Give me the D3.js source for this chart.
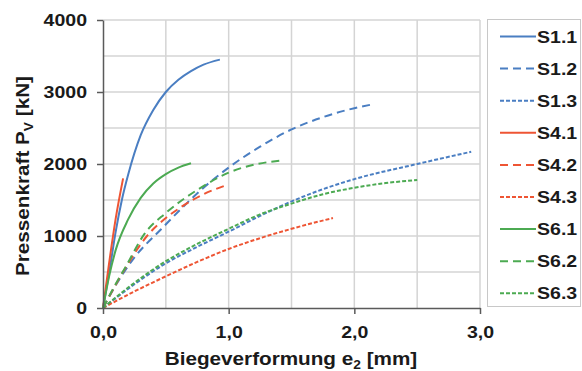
<!DOCTYPE html>
<html><head><meta charset="utf-8">
<script src="https://cdn.jsdelivr.net/npm/d3@7"></script>
<style>
html,body{margin:0;padding:0;background:#fff;}
svg{display:block;font-family:"Liberation Sans",Arial,sans-serif;font-weight:bold;}
</style></head><body>
<svg id="c" width="582" height="371"></svg>
<script>
// ---- data ----
const seriesNames = ["S1.1","S1.2","S1.3","S4.1","S4.2","S4.3","S6.1","S6.2","S6.3"];
const S1_1 = [[0,0],[0.05,500],[0.1,1050],[0.15,1500],[0.2,1850],[0.3,2400],[0.4,2750],[0.5,3000],[0.6,3170],[0.7,3290],[0.8,3380],[0.93,3450]];
const S1_2 = [[0,0],[0.12,370],[0.24,680],[0.46,1090],[0.6,1340],[0.78,1640],[1.0,1950],[1.25,2240],[1.5,2480],[1.75,2650],[2.0,2775],[2.15,2830]];
const S1_3 = [[0,0],[0.25,330],[0.5,620],[0.75,850],[1.0,1060],[1.25,1280],[1.5,1480],[1.75,1650],[2.0,1790],[2.5,2000],[2.93,2170]];
const S4_1 = [[0,0],[0.05,640],[0.1,1230],[0.16,1800]];
const S4_2 = [[0,0],[0.1,320],[0.18,560],[0.35,1000],[0.5,1250],[0.62,1400],[0.8,1580],[0.99,1710]];
const S4_3 = [[0,0],[0.25,230],[0.5,440],[0.75,640],[1.0,820],[1.25,970],[1.5,1100],[1.83,1250]];
const S6_1 = [[0,0],[0.05,450],[0.1,800],[0.2,1230],[0.3,1530],[0.4,1730],[0.5,1860],[0.6,1950],[0.7,2010]];
const S6_2 = [[0,0],[0.1,330],[0.18,570],[0.33,1030],[0.5,1320],[0.75,1640],[1.0,1880],[1.2,1990],[1.41,2046]];
const S6_3 = [[0,0],[0.25,350],[0.5,650],[0.75,890],[1.0,1100],[1.25,1300],[1.5,1450],[1.75,1580],[2.0,1670],[2.25,1735],[2.5,1778]];
const seriesData = [S1_1,S1_2,S1_3,S4_1,S4_2,S4_3,S6_1,S6_2,S6_3];
const yTicks = [0,1000,2000,3000,4000];
const yGrid = [500,1000,1500,2000,2500,3000,3500,4000];
const xTicks = [0,1,2,3];
const xTickLabels = ["0,0","1,0","2,0","3,0"];
const xGrid = [0.5,1,1.5,2,2.5,3];

// ---- styles ----
const colors = ["#4a7ec2","#4a7ec2","#4a7ec2","#ee5534","#ee5534","#ee5534","#4caa52","#4caa52","#4caa52"];
const dashes = [null,"8,5","4,2",null,"8,5","4,2",null,"8,5","4,2"];
const SX = 1.15;

const svg = d3.select("#c");
const L=103, R=480, T=20, B=308;
const x = d3.scaleLinear().domain([0,3]).range([L,R]);
const y = d3.scaleLinear().domain([0,4000]).range([B,T]);

// grid
svg.append("g").selectAll("line").data(yGrid).join("line")
  .attr("x1",L).attr("x2",R).attr("y1",d=>y(d)).attr("y2",d=>y(d))
  .attr("stroke","#d4d4d4").attr("stroke-width",1.5);
svg.append("g").selectAll("line").data(xGrid).join("line")
  .attr("y1",T).attr("y2",B).attr("x1",d=>x(d)).attr("x2",d=>x(d))
  .attr("stroke","#d4d4d4").attr("stroke-width",1.5);

// series
const line = d3.line().x(d=>x(d[0])).y(d=>y(d[1])).curve(d3.curveMonotoneX);
const g = svg.append("g");
seriesData.forEach((s,i)=>{
  g.append("path").attr("d",line(s)).attr("fill","none")
   .attr("stroke",colors[i]).attr("stroke-width",2)
   .attr("stroke-dasharray",dashes[i]);
});

// axes
const yAxis = svg.append("g").attr("transform",`translate(${L},0)`)
  .call(d3.axisLeft(y).tickValues(yTicks).tickSize(6).tickSizeOuter(0).tickFormat(d3.format("d")));
const xAxis = svg.append("g").attr("transform",`translate(0,${B})`)
  .call(d3.axisBottom(x).tickValues(xTicks).tickSize(6).tickSizeOuter(0).tickFormat((d,i)=>xTickLabels[i]));
[yAxis,xAxis].forEach(a=>{
  a.select(".domain").attr("stroke","#5a5a5a").attr("stroke-width",1.5);
  a.selectAll(".tick line").attr("stroke","#5a5a5a").attr("stroke-width",1.5);
  a.selectAll("text").attr("fill","#1a1a1a").style("font-size","17px")
   .style("font-family","'Liberation Sans',Arial,sans-serif").style("font-weight","bold");
});
yAxis.selectAll(".tick text").attr("x",-16/SX).attr("dy","0.35em").attr("transform",`scale(${SX},1)`);
xAxis.selectAll(".tick text").attr("y",30).attr("dy",0).attr("transform",`scale(${SX},1)`);

// axis titles
const xt = svg.append("text").attr("transform",`translate(291,365) scale(${SX},1)`)
  .attr("text-anchor","middle").style("font-size","18px").attr("fill","#1a1a1a");
xt.append("tspan").text("Biegeverformung e");
xt.append("tspan").attr("dy",4).style("font-size","12px").text("2");
xt.append("tspan").attr("dy",-4).text(" [mm]");

const yt = svg.append("text").attr("transform",`translate(29,176) rotate(-90) scale(${SX},1)`)
  .attr("text-anchor","middle").style("font-size","18px").attr("fill","#1a1a1a");
yt.append("tspan").text("Pressenkraft P");
yt.append("tspan").attr("dy",4).style("font-size","12px").text("V");
yt.append("tspan").attr("dy",-4).text(" [kN]");

// legend
svg.append("rect").attr("x",487.5).attr("y",19.5).attr("width",93).attr("height",287)
  .attr("fill","#fff").attr("stroke","#c8c8c8").attr("stroke-width",1);
const lg = svg.append("g").selectAll("g").data(seriesNames).join("g")
  .attr("transform",(d,i)=>`translate(0,${36.5+i*32.1})`);
lg.append("line").attr("x1",500).attr("x2",536).attr("y1",0).attr("y2",0)
  .attr("stroke",(d,i)=>colors[i]).attr("stroke-width",2).attr("stroke-dasharray",(d,i)=>dashes[i]);
lg.append("text").attr("transform",`translate(537,0) scale(${SX},1)`).attr("dy","0.36em")
  .style("font-size","17px").attr("fill","#1a1a1a").text(d=>d);
</script>
</body></html>
